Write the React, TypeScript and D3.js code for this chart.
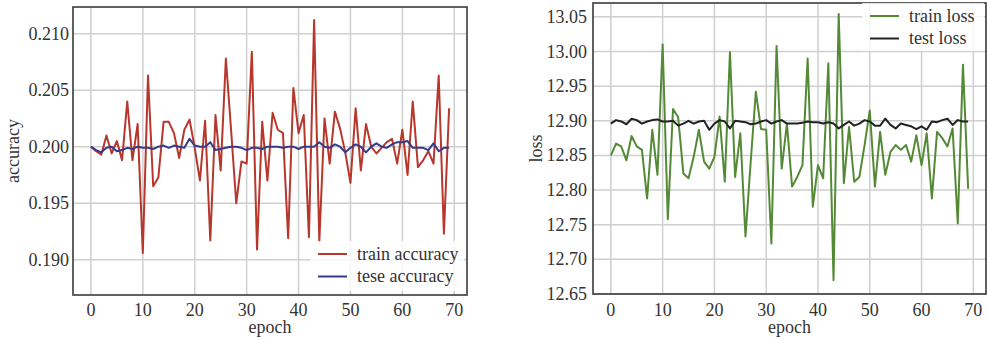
import React from "react";
import * as d3 from "d3";

const epochs = d3.range(0, 70);

const trainAcc = [
  0.2000, 0.1996, 0.1993, 0.2010, 0.1994, 0.2005, 0.1988, 0.2040, 0.1988, 0.2020,
  0.1906, 0.2063, 0.1965, 0.1973, 0.2022, 0.2022, 0.2012, 0.1990, 0.2015, 0.2024,
  0.1999, 0.1970, 0.2023, 0.1917, 0.2028, 0.1979, 0.2078, 0.2015, 0.1950, 0.1987,
  0.1985, 0.2084, 0.1909, 0.2022, 0.1970, 0.2030, 0.2015, 0.2012, 0.1919, 0.2052,
  0.2012, 0.2028, 0.1920, 0.2112, 0.1916, 0.2025, 0.1985, 0.2031, 0.2016, 0.1995,
  0.1968, 0.2034, 0.1979, 0.2020, 0.2000, 0.1994, 0.1999, 0.2004, 0.2007, 0.1985,
  0.2015, 0.1975, 0.2040, 0.1982, 0.1988, 0.1996, 0.1985, 0.2063, 0.1923, 0.2034,
];

const testAcc = [
  0.2000, 0.1997, 0.1995, 0.1999, 0.2000, 0.1996, 0.1997, 0.1999, 0.1998, 0.2000,
  0.1999, 0.1999, 0.1998, 0.2000, 0.2001, 0.1999, 0.2001, 0.2000, 0.1999, 0.2007,
  0.2001, 0.2000, 0.2000, 0.2004, 0.1997, 0.1998, 0.1999, 0.2000, 0.2000, 0.1999,
  0.1997, 0.1999, 0.1999, 0.1998, 0.2000, 0.2000, 0.2000, 0.1999, 0.2000, 0.2000,
  0.1998, 0.2000, 0.2000, 0.2000, 0.2004, 0.2000, 0.1999, 0.2002, 0.2000, 0.1995,
  0.1999, 0.2002, 0.2000, 0.1995, 0.2000, 0.2003, 0.2000, 0.1999, 0.2002, 0.2004,
  0.2004, 0.2005, 0.1999, 0.1999, 0.1999, 0.1997, 0.2003, 0.1996, 0.1999, 0.1999,
];

const trainLoss = [
  12.850, 12.867, 12.863, 12.843, 12.878, 12.863, 12.858, 12.788, 12.887, 12.822,
  13.010, 12.758, 12.917, 12.905, 12.824, 12.817, 12.848, 12.887, 12.841, 12.831,
  12.848, 12.906, 12.812, 12.999, 12.819, 12.882, 12.733, 12.840, 12.942, 12.888,
  12.887, 12.723, 13.008, 12.831, 12.896, 12.805, 12.819, 12.836, 12.990, 12.776,
  12.836, 12.817, 12.983, 12.670, 13.054, 12.810, 12.891, 12.812, 12.819, 12.865,
  12.915, 12.805, 12.884, 12.822, 12.855, 12.865, 12.858, 12.865, 12.841, 12.879,
  12.836, 12.882, 12.788, 12.884, 12.875, 12.863, 12.889, 12.752, 12.981, 12.802,
];

const testLoss = [
  12.896, 12.901, 12.899, 12.895, 12.903, 12.901, 12.896, 12.899, 12.901, 12.902,
  12.899, 12.899, 12.900, 12.893, 12.896, 12.900, 12.896, 12.899, 12.900, 12.887,
  12.896, 12.901, 12.899, 12.889, 12.900, 12.899, 12.898, 12.895, 12.896, 12.899,
  12.901, 12.896, 12.899, 12.901, 12.896, 12.896, 12.896, 12.897, 12.899, 12.898,
  12.898, 12.896, 12.898, 12.896, 12.889, 12.894, 12.899, 12.893, 12.896, 12.901,
  12.899, 12.893, 12.893, 12.903, 12.894, 12.889, 12.896, 12.894, 12.892, 12.888,
  12.892, 12.887, 12.899, 12.898, 12.901, 12.903, 12.894, 12.901, 12.899, 12.899,
];

const accTicks = [0.19, 0.195, 0.2, 0.205, 0.21];
const lossTicks = [12.65, 12.7, 12.75, 12.8, 12.85, 12.9, 12.95, 13.0, 13.05];
const epochTicks = [0, 10, 20, 30, 40, 50, 60, 70];

const FONT = "'Liberation Serif', 'DejaVu Serif', serif";
const TEXT = "#333";

type Series = { name: string; values: number[]; color: string };

function Panel(props: {
  left: number; right: number; top: number; bottom: number;
  yDomain: [number, number]; yTicks: number[]; yFormat: (v: number) => string;
  yLabel: string; yLabelX: number; tickGap: number;
  series: Series[]; legend: { x: number; y: number; w: number; h: number; lineX: number };
}) {
  const { left, right, top, bottom, series, legend } = props;
  const x = d3.scaleLinear().domain([-3.45, 72.45]).range([left, right]);
  const y = d3.scaleLinear().domain(props.yDomain).range([bottom, top]);
  const line = d3.line<number>().x((d, i) => x(epochs[i])).y(d => y(d));

  return (
    <g>
      <defs>
        <clipPath id={"clip" + left}>
          <rect x={left} y={top} width={right - left} height={bottom - top} />
        </clipPath>
      </defs>
      {epochTicks.map(t => (
        <line key={"gx" + t} x1={x(t)} x2={x(t)} y1={top} y2={bottom} stroke="#cfcfcf" strokeWidth={1.5} />
      ))}
      {props.yTicks.map(t => (
        <line key={"gy" + t} x1={left} x2={right} y1={y(t)} y2={y(t)} stroke="#cfcfcf" strokeWidth={1.5} />
      ))}
      <g clipPath={`url(#clip${left})`}>
        {series.map(s => (
          <path key={s.name} d={line(s.values) || ""} fill="none" stroke={s.color} strokeWidth={2} strokeLinejoin="round" />
        ))}
      </g>
      <rect x={left} y={top} width={right - left} height={bottom - top} fill="none" stroke="#3a3a3a" strokeWidth={1.6} />
      {epochTicks.map(t => (
        <text key={"tx" + t} x={x(t)} y={316} textAnchor="middle" fontFamily={FONT} fontSize={18} fill={TEXT}>{t}</text>
      ))}
      {props.yTicks.map(t => (
        <text key={"ty" + t} x={left - props.tickGap} y={y(t) + 6} textAnchor="end" fontFamily={FONT} fontSize={18} fill={TEXT}>
          {props.yFormat(t)}
        </text>
      ))}
      <text x={(left + right) / 2} y={333} textAnchor="middle" fontFamily={FONT} fontSize={18} fill={TEXT}>epoch</text>
      <text transform={`translate(${props.yLabelX},${(top + bottom) / 2}) rotate(-90)`} textAnchor="middle"
        fontFamily={FONT} fontSize={18} fill={TEXT}>{props.yLabel}</text>
      <rect x={legend.x} y={legend.y} width={legend.w} height={legend.h} fill="white" opacity={0.8} />
      {series.map((s, i) => {
        const ly = legend.y + 13 + i * 22.5;
        return (
          <g key={"lg" + s.name}>
            <line x1={legend.lineX} x2={legend.lineX + 29} y1={ly} y2={ly} stroke={s.color} strokeWidth={2} />
            <text x={legend.lineX + 39} y={ly + 5.5} fontFamily={FONT} fontSize={18} fill={TEXT}>{s.name}</text>
          </g>
        );
      })}
    </g>
  );
}

export default function App() {
  return (
    <svg width={987} height={339} style={{ position: "absolute", left: 0, top: 0, background: "white" }}>
      <Panel
        left={73} right={467} top={7} bottom={295}
        yDomain={[0.18688, 0.21236]} yTicks={accTicks} yFormat={d3.format(".3f")}
        yLabel="accuracy" yLabelX={19} tickGap={4}
        series={[
          { name: "train accuracy", values: trainAcc, color: "#b8372c" },
          { name: "tese accuracy", values: testAcc, color: "#363a8a" },
        ]}
        legend={{ x: 310, y: 241, w: 154, h: 50, lineX: 318 }}
      />
      <Panel
        left={593} right={986} top={3} bottom={294}
        yDomain={[12.65, 13.07]} yTicks={lossTicks} yFormat={d3.format(".2f")}
        yLabel="loss" yLabelX={542} tickGap={6}
        series={[
          { name: "train loss", values: trainLoss, color: "#548a36" },
          { name: "test loss", values: testLoss, color: "#222222" },
        ]}
        legend={{ x: 862, y: 3, w: 122, h: 48, lineX: 870 }}
      />
    </svg>
  );
}
